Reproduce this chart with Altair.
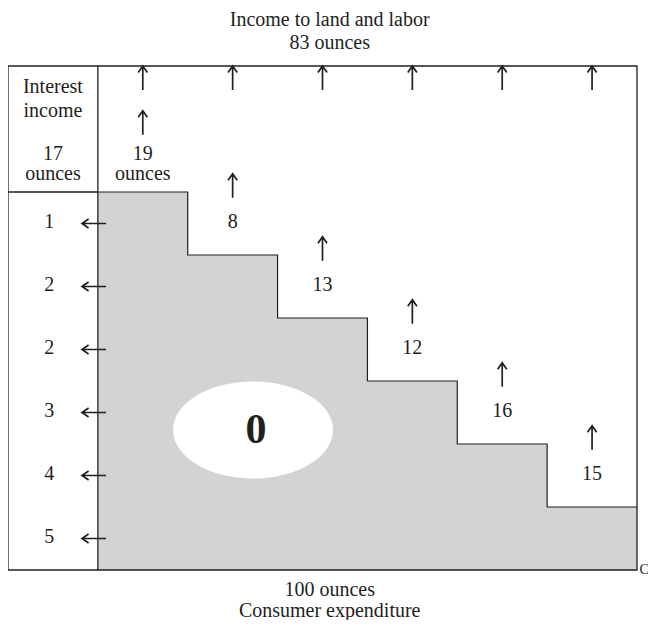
import altair as alt
import pandas as pd

# ---------------- data ----------------
col_values = [19, 8, 13, 12, 16, 15]        # income to land and labor, per column
interest_values = [1, 2, 2, 3, 4, 5]         # interest income, per row
stair_top = [6, 5, 4, 3, 2, 1]               # top of grey area per column (grid rows)
title_lines = ["Income to land and labor", "83 ounces"]
bottom_lines = ["100 ounces", "Consumer expenditure"]
left_head = ["Interest", "income", "17", "ounces"]
unit_word = "ounces"
center_label = "0"
corner_label = "C"

# ---------------- layout / style ----------------
N_COLS, N_ROWS = 7, 8
INK = "#231f20"
GREY = "#d1d3d4"
FONT = "Liberation Serif"
FS = 20

xs = alt.Scale(domain=[0, N_COLS], nice=False, zero=False)
ys = alt.Scale(domain=[0, N_ROWS], nice=False, zero=False)


def X(f):
    return alt.X(f, type="quantitative", scale=xs, axis=None)


def Y(f):
    return alt.Y(f, type="quantitative", scale=ys, axis=None)


ncol = len(col_values)
col_x = [i + 1 for i in range(ncol)]
col_center = [c + 0.5 for c in col_x]

# grey staircase area + outline
stairs = pd.DataFrame({"x": col_x + [col_x[-1] + 1],
                       "y": stair_top + [stair_top[-1]],
                       "y0": [0] * (ncol + 1)})
grey = alt.Chart(stairs).mark_area(interpolate="step-after", color=GREY, opacity=1).encode(
    x=X("x"), y=Y("y"), y2="y0")
stair_line = alt.Chart(stairs).mark_line(interpolate="step-after", color=INK, strokeWidth=1.2).encode(
    x=X("x"), y=Y("y"))

# ellipse with the "0"
ell = pd.DataFrame({"x": [2.727], "y": [2.222], "t": [center_label]})
ellipse = alt.Chart(ell).mark_point(
    shape="M-1,0A1,0.606,0,1,0,1,0A1,0.606,0,1,0,-1,0Z",
    filled=True, fill="white", opacity=1, strokeWidth=0, size=25600).encode(x=X("x"), y=Y("y"))
zero_txt = alt.Chart(ell).mark_text(font=FONT, fontSize=42, fontWeight="bold", color=INK,
                                    baseline="middle", dx=3).encode(x=X("x"), y=Y("y"), text="t")

# frame and inner rules
frame = alt.Chart(pd.DataFrame({"x": [0], "x2": [N_COLS], "y": [0], "y2": [N_ROWS]})).mark_rect(
    fillOpacity=0, stroke=INK, strokeWidth=1.3).encode(x=X("x"), x2="x2", y=Y("y"), y2="y2")
rules_df = pd.DataFrame({"x": [1, 0], "x2": [1, 1], "y": [0, stair_top[0]], "y2": [N_ROWS, stair_top[0]]})
rules = alt.Chart(rules_df).mark_rule(color=INK, strokeWidth=1.3).encode(
    x=X("x"), x2="x2", y=Y("y"), y2="y2")

# up arrows
up_df = pd.DataFrame({"x": col_center + col_center,
                      "y": [7.81] * ncol + [t + 1.1 for t in stair_top]})
up_arrows = alt.Chart(up_df).mark_point(
    shape="M0,1L0,-1M-0.38,-0.45L0,-1L0.38,-0.45",
    filled=False, color=INK, strokeWidth=1.7, opacity=1, size=576).encode(x=X("x"), y=Y("y"))

# left arrows
row_center = [t - 0.5 for t in stair_top]
left_df = pd.DataFrame({"x": [0.957] * len(interest_values), "y": row_center})
left_arrows = alt.Chart(left_df).mark_point(
    shape="M1,0L-1,0M-0.45,-0.38L-1,0L-0.45,0.38",
    filled=False, color=INK, strokeWidth=1.7, opacity=1, size=576).encode(x=X("x"), y=Y("y"))

# middle-baseline numeric labels
mid_df = pd.DataFrame({
    "x": [0.46] * len(interest_values) + col_center[1:],
    "y": row_center + [t + 0.5 for t in stair_top[1:]],
    "t": [str(v) for v in interest_values] + [str(v) for v in col_values[1:]],
})
mid_txt = alt.Chart(mid_df).mark_text(font=FONT, fontSize=FS, color=INK, baseline="middle", dy=-1.5).encode(
    x=X("x"), y=Y("y"), text="t")

# alphabetic-baseline texts
tx = 3.58
alpha_df = pd.DataFrame({
    "x": [tx, tx, tx, tx, 0.5, 0.5, 0.5, 0.5, col_center[0], col_center[0]],
    "y": [8.635, 8.27, -0.413, -0.746, 7.571, 7.19, 6.508, 6.183, 6.508, 6.183],
    "t": title_lines + bottom_lines + left_head + [str(col_values[0]), unit_word],
})
alpha_txt = alt.Chart(alpha_df).mark_text(font=FONT, fontSize=FS, color=INK, baseline="alphabetic").encode(
    x=X("x"), y=Y("y"), text="t")

corner = alt.Chart(pd.DataFrame({"x": [7.028], "y": [-0.063], "t": [corner_label]})).mark_text(
    font=FONT, fontSize=14, color=INK, baseline="alphabetic", align="left").encode(
    x=X("x"), y=Y("y"), text="t")

chart = alt.layer(
    grey, ellipse, zero_txt, stair_line, rules, frame,
    up_arrows, left_arrows, mid_txt, alpha_txt, corner
).properties(
    width=629, height=504,
    autosize=alt.AutoSizeParams(type="none"),
    padding={"left": 0, "top": 58, "right": 11, "bottom": 50},
    background="white",
).configure_view(strokeWidth=0)

chart.save("out.html", embed_options={"renderer": "svg", "actions": False})
